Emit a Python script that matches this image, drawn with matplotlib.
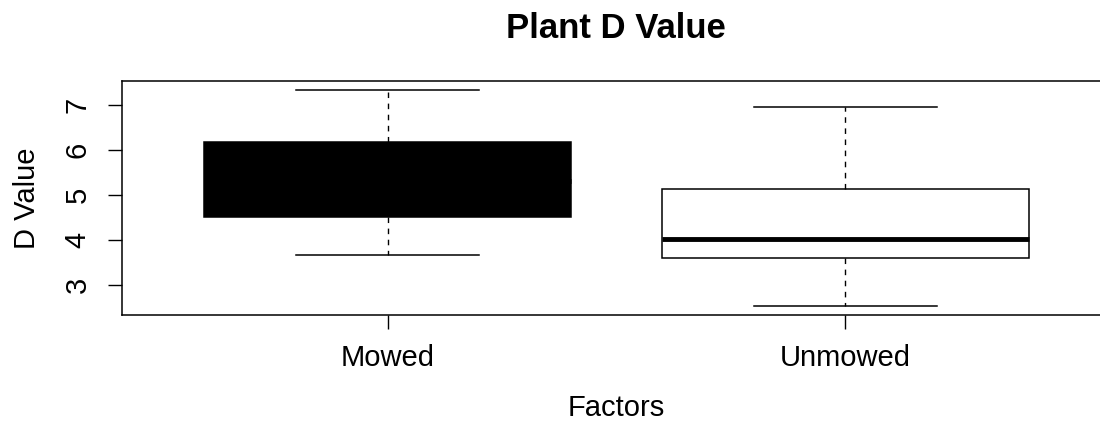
import matplotlib
matplotlib.use("Agg")
import matplotlib.pyplot as plt

# Box statistics (base R style boxplot)
groups = ["Mowed", "Unmowed"]
whisker_low = [3.67, 2.52]
q1 = [4.51, 3.60]
median = [5.30, 4.02]
q3 = [6.18, 5.14]
whisker_high = [7.33, 6.96]
fills = ["black", "white"]
y_ticks = [3, 4, 5, 6, 7]

plt.rcParams["font.family"] = ["Liberation Sans", "DejaVu Sans"]

fig = plt.figure(figsize=(11, 4.23), dpi=100)
ax = fig.add_axes([122 / 1100, 108 / 423, 989 / 1100, 234 / 423])

stats = []
for i, name in enumerate(groups):
    stats.append({
        "label": name,
        "whislo": whisker_low[i],
        "q1": q1[i],
        "med": median[i],
        "q3": q3[i],
        "whishi": whisker_high[i],
        "fliers": [],
    })

bp = ax.bxp(
    stats,
    positions=[1, 2],
    widths=0.8,
    patch_artist=True,
    showfliers=False,
    boxprops=dict(edgecolor="black", linewidth=1.1),
    medianprops=dict(color="black", linewidth=3.5, solid_capstyle="butt"),
    whiskerprops=dict(color="black", linewidth=1.0, linestyle=(0, (4, 4))),
    capprops=dict(color="black", linewidth=1.1),
    capwidths=0.4,
)
for patch, c in zip(bp["boxes"], fills):
    patch.set_facecolor(c)

ax.set_xlim(0.42, 2.58)
ax.set_ylim(2.33, 7.53)
ax.set_yticks(y_ticks)
ax.set_yticklabels([str(v) for v in y_ticks], rotation=90, va="center")
ax.set_xticks([1, 2])
ax.set_xticklabels(groups)

ax.tick_params(axis="both", labelsize=21, length=10, width=1.0, direction="out",
               color="black")
ax.tick_params(axis="y", pad=12)
ax.tick_params(axis="x", pad=11)
for s in ax.spines.values():
    s.set_linewidth(1.1)
    s.set_color("black")

ax.set_xlabel("Factors", fontsize=21, labelpad=16)
ax.set_ylabel("D Value", fontsize=21, labelpad=16)
fig.text(616 / 1100, 1 - 28 / 423, "Plant D Value", fontsize=25, fontweight="bold",
         ha="center", va="center")

fig.savefig("out.png", dpi=100)
